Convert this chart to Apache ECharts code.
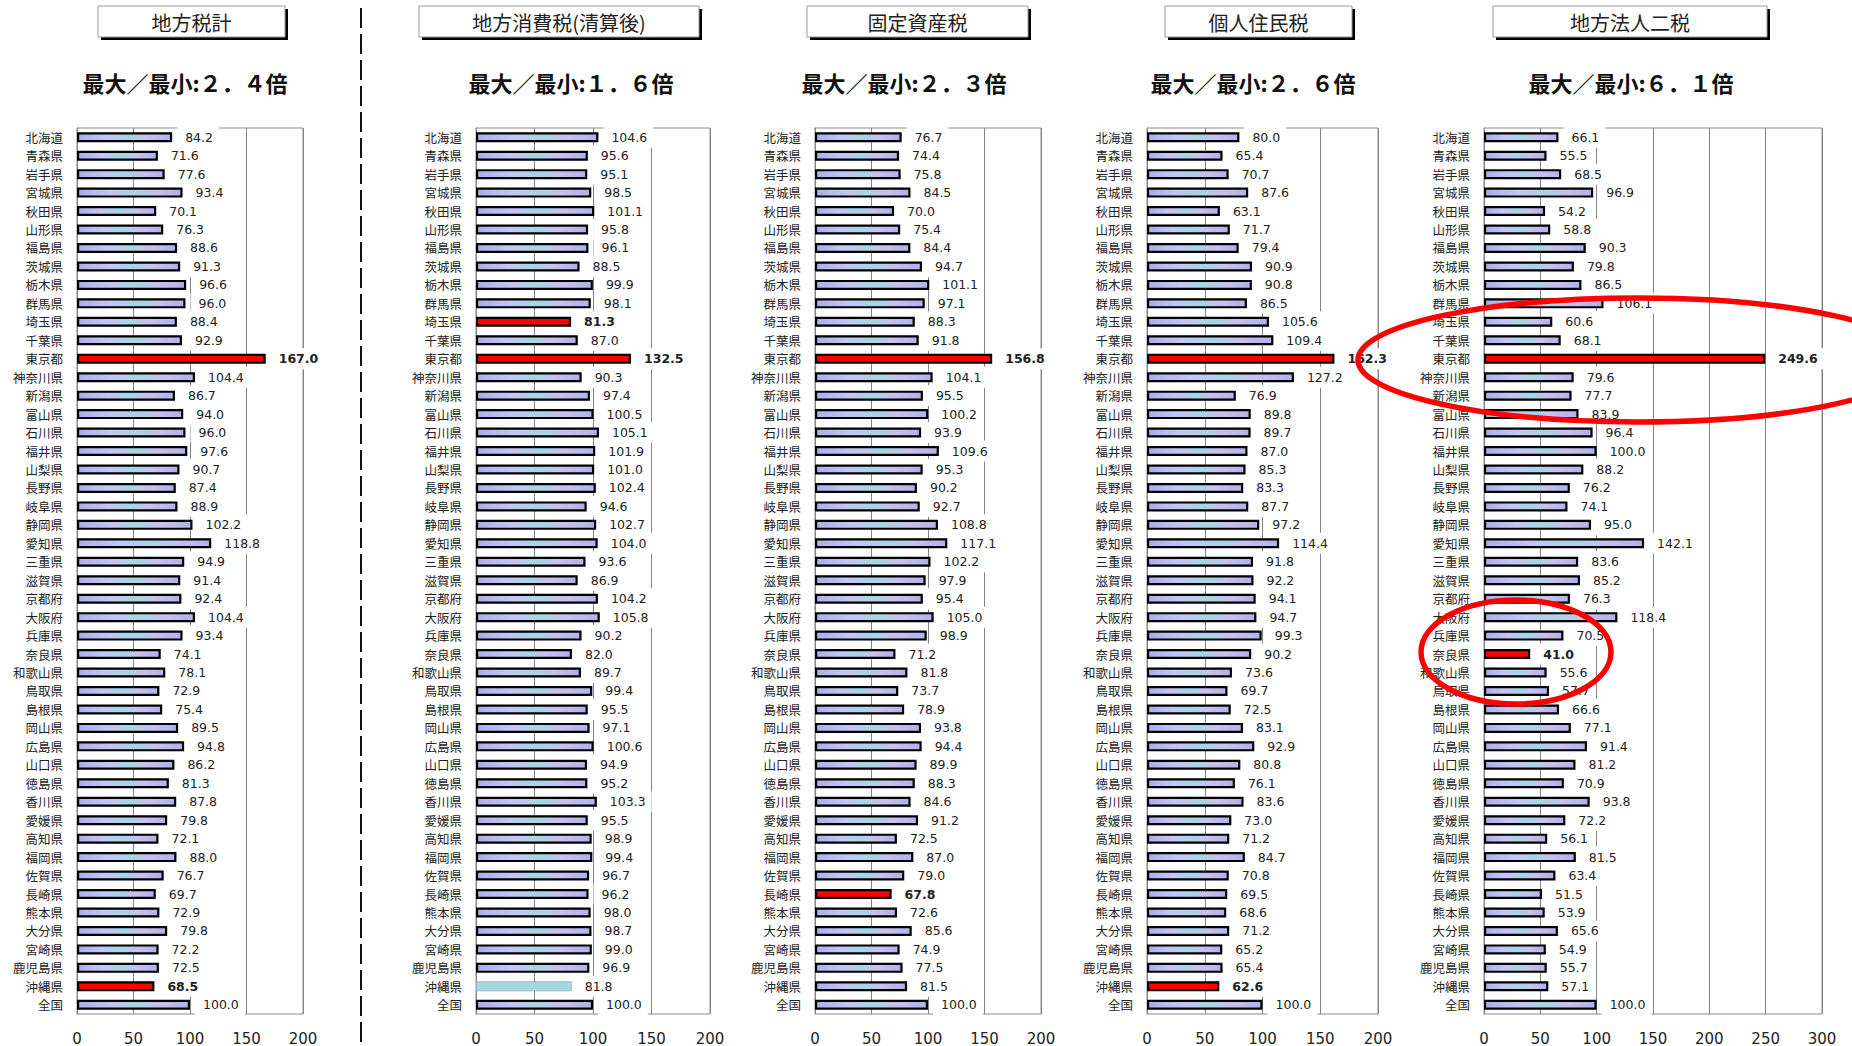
<!DOCTYPE html>
<html>
<head>
<meta charset="utf-8">
<script src="https://cdn.jsdelivr.net/npm/echarts@6/dist/echarts.min.js"></script>
<style>
  html, body { margin: 0; padding: 0; background: #ffffff; }
  #chart { width: 1852px; height: 1046px; }
</style>
</head>
<body>
<div id="chart"></div>
<script>
// 都道府県（上から順に）と全国
const prefectures = [
  '北海道','青森県','岩手県','宮城県','秋田県','山形県','福島県','茨城県','栃木県','群馬県',
  '埼玉県','千葉県','東京都','神奈川県','新潟県','富山県','石川県','福井県','山梨県','長野県',
  '岐阜県','静岡県','愛知県','三重県','滋賀県','京都府','大阪府','兵庫県','奈良県','和歌山県',
  '鳥取県','島根県','岡山県','広島県','山口県','徳島県','香川県','愛媛県','高知県','福岡県',
  '佐賀県','長崎県','熊本県','大分県','宮崎県','鹿児島県','沖縄県','全国'
];

// 人口一人当たり税収額の指数（全国平均＝100）
const localTaxTotal = [
  84.2, 71.6, 77.6, 93.4, 70.1, 76.3, 88.6, 91.3, 96.6, 96.0,
  88.4, 92.9, 167.0, 104.4, 86.7, 94.0, 96.0, 97.6, 90.7, 87.4,
  88.9, 102.2, 118.8, 94.9, 91.4, 92.4, 104.4, 93.4, 74.1, 78.1,
  72.9, 75.4, 89.5, 94.8, 86.2, 81.3, 87.8, 79.8, 72.1, 88.0,
  76.7, 69.7, 72.9, 79.8, 72.2, 72.5, 68.5, 100.0
];
const localConsumptionTax = [
  104.6, 95.6, 95.1, 98.5, 101.1, 95.8, 96.1, 88.5, 99.9, 98.1,
  81.3, 87.0, 132.5, 90.3, 97.4, 100.5, 105.1, 101.9, 101.0, 102.4,
  94.6, 102.7, 104.0, 93.6, 86.9, 104.2, 105.8, 90.2, 82.0, 89.7,
  99.4, 95.5, 97.1, 100.6, 94.9, 95.2, 103.3, 95.5, 98.9, 99.4,
  96.7, 96.2, 98.0, 98.7, 99.0, 96.9, 81.8, 100.0
];
const fixedAssetTax = [
  76.7, 74.4, 75.8, 84.5, 70.0, 75.4, 84.4, 94.7, 101.1, 97.1,
  88.3, 91.8, 156.8, 104.1, 95.5, 100.2, 93.9, 109.6, 95.3, 90.2,
  92.7, 108.8, 117.1, 102.2, 97.9, 95.4, 105.0, 98.9, 71.2, 81.8,
  73.7, 78.9, 93.8, 94.4, 89.9, 88.3, 84.6, 91.2, 72.5, 87.0,
  79.0, 67.8, 72.6, 85.6, 74.9, 77.5, 81.5, 100.0
];
const individualInhabitantTax = [
  80.0, 65.4, 70.7, 87.6, 63.1, 71.7, 79.4, 90.9, 90.8, 86.5,
  105.6, 109.4, 162.3, 127.2, 76.9, 89.8, 89.7, 87.0, 85.3, 83.3,
  87.7, 97.2, 114.4, 91.8, 92.2, 94.1, 94.7, 99.3, 90.2, 73.6,
  69.7, 72.5, 83.1, 92.9, 80.8, 76.1, 83.6, 73.0, 71.2, 84.7,
  70.8, 69.5, 68.6, 71.2, 65.2, 65.4, 62.6, 100.0
];
const corporateTwoTaxes = [
  66.1, 55.5, 68.5, 96.9, 54.2, 58.8, 90.3, 79.8, 86.5, 106.1,
  60.6, 68.1, 249.6, 79.6, 77.7, 83.9, 96.4, 100.0, 88.2, 76.2,
  74.1, 95.0, 142.1, 83.6, 85.2, 76.3, 118.4, 70.5, 41.0, 55.6,
  57.7, 66.6, 77.1, 91.4, 81.2, 70.9, 93.8, 72.2, 56.1, 81.5,
  63.4, 51.5, 53.9, 65.6, 54.9, 55.7, 57.1, 100.0
];

// 各税目の見出しと最大／最小の倍率
const panelTitles = ['地方税計', '地方消費税(清算後)', '固定資産税', '個人住民税', '地方法人二税'];
const panelRatios = ['最大／最小:２．４倍', '最大／最小:１．６倍', '最大／最小:２．３倍', '最大／最小:２．６倍', '最大／最小:６．１倍'];
// 赤く塗る都道府県（最大・最小）
const panelHighlights = [
  ['東京都', '沖縄県'],
  ['東京都', '埼玉県'],
  ['東京都', '長崎県'],
  ['東京都', '沖縄県'],
  ['東京都', '奈良県']
];
const panelAxisMax = [200, 200, 200, 200, 300];
const valueTicks = 50;

const panelValues = [localTaxTotal, localConsumptionTax, fixedAssetTax, individualInhabitantTax, corporateTwoTaxes];

// 配置（ピクセル）
const layout = [
  { left: 77,   width: 226, titleX: 98,   titleW: 187, ratioX: 185 },
  { left: 476,  width: 234, titleX: 419,  titleW: 280, ratioX: 571 },
  { left: 815,  width: 226, titleX: 807,  titleW: 221, ratioX: 904 },
  { left: 1147, width: 231, titleX: 1165, titleW: 187, ratioX: 1253 },
  { left: 1484, width: 338, titleX: 1493, titleW: 274, ratioX: 1631 }
];
const plotTop = 128, plotHeight = 886;

const CJK = '"Noto Sans CJK JP", "Noto Sans", sans-serif';
const NUM = '"DejaVu Sans", Verdana, sans-serif';

const barFill = {
  type: 'linear', x: 0, y: 0, x2: 1, y2: 0,
  colorStops: [
    { offset: 0.00, color: '#adaeeb' },
    { offset: 0.30, color: '#c3c5f7' },
    { offset: 0.55, color: '#a7d5e4' },
    { offset: 0.75, color: '#c9bfef' },
    { offset: 1.00, color: '#b0b2ec' }
  ]
};

const grids = [], xAxes = [], yAxes = [], series = [], graphics = [];

panelValues.forEach((values, p) => {
  const L = layout[p];
  grids.push({
    left: L.left, top: plotTop, width: L.width, height: plotHeight,
    show: true, borderColor: '#8c8c8c', borderWidth: 1, backgroundColor: 'transparent',
    containLabel: false
  });
  xAxes.push({
    type: 'value', gridIndex: p, min: 0, max: panelAxisMax[p], interval: valueTicks,
    axisLine: { show: false }, axisTick: { show: false },
    splitLine: { show: true, lineStyle: { color: '#858585', width: 1 } },
    axisLabel: { color: '#222', fontSize: 15, fontFamily: NUM, margin: 17 }
  });
  yAxes.push({
    type: 'category', gridIndex: p, data: prefectures, inverse: true,
    axisLine: { show: true, lineStyle: { color: '#858585', width: 1 } },
    axisTick: { show: false },
    axisLabel: { color: '#222', fontSize: 12.5, fontFamily: CJK, margin: 14, interval: 0 }
  });

  const data = values.map((v, i) => {
    const name = prefectures[i];
    const item = { value: v };
    if (panelHighlights[p].includes(name)) {
      item.itemStyle = { color: '#ff0000', borderColor: '#000', borderWidth: 2.2 };
      item.label = { fontWeight: 'bold' };
    } else if (p === 1 && name === '沖縄県') {
      item.itemStyle = { color: '#a6d8e1', borderColor: '#8fbac3', borderWidth: 1 };
    }
    return item;
  });

  series.push({
    type: 'bar', xAxisIndex: p, yAxisIndex: p, data: data,
    barWidth: 10, animation: false,
    itemStyle: { color: barFill, borderColor: '#000', borderWidth: 2.2 },
    label: {
      show: true, position: 'right', distance: 5,
      formatter: (d) => d.value.toFixed(1),
      color: '#222', fontSize: 12.5, fontFamily: NUM,
      backgroundColor: '#ffffff', padding: [4, 6, 4, 8]
    },
    z: 3
  });

  // 見出しの枠（影付き）
  graphics.push({
    type: 'rect', shape: { x: L.titleX + 3, y: 9, width: L.titleW, height: 31 },
    style: { fill: '#000' }, z: 10
  });
  graphics.push({
    type: 'rect', shape: { x: L.titleX, y: 6, width: L.titleW, height: 31 },
    style: { fill: '#fff', stroke: '#9a9a9a', lineWidth: 1 }, z: 11
  });
  graphics.push({
    type: 'text', x: L.titleX + L.titleW / 2, y: 22, z: 12,
    style: { text: panelTitles[p], fill: '#222', font: '20px ' + CJK, textAlign: 'center', textVerticalAlign: 'middle' }
  });
  graphics.push({
    type: 'text', x: L.ratioX, y: 82, z: 12,
    style: { text: panelRatios[p], fill: '#111', font: 'bold 22px ' + CJK, textAlign: 'center', textVerticalAlign: 'middle' }
  });
});

// 地方税計と各税目を分ける破線
graphics.push({
  type: 'line', shape: { x1: 361, y1: 8, x2: 361, y2: 1046 },
  style: { stroke: '#111', lineWidth: 2, lineDash: [20, 6] }, z: 10
});

// 地方法人二税の強調（東京都・奈良県）
graphics.push({
  type: 'ellipse', shape: { cx: 1638, cy: 360, rx: 280, ry: 62 },
  style: { fill: 'none', stroke: '#ff0000', lineWidth: 5.5 }, z: 50
});
graphics.push({
  type: 'ellipse', shape: { cx: 1516, cy: 652, rx: 95, ry: 52 },
  style: { fill: 'none', stroke: '#ff0000', lineWidth: 5.5 }, z: 50
});

const chart = echarts.init(document.getElementById('chart'), null, { renderer: 'svg', width: 1852, height: 1046 });
chart.setOption({
  animation: false,
  backgroundColor: '#ffffff',
  grid: grids,
  xAxis: xAxes,
  yAxis: yAxes,
  series: series,
  graphic: graphics
});
</script>
</body>
</html>
